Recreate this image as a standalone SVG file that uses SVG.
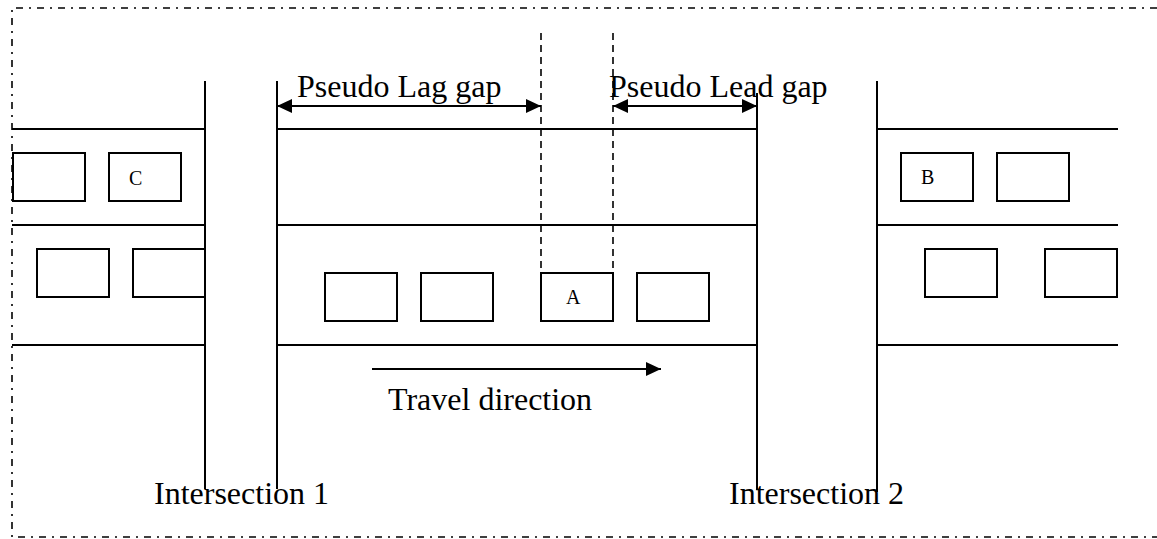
<svg xmlns="http://www.w3.org/2000/svg" width="1157" height="539" viewBox="0 0 1157 539">
<style>
.road{stroke:#000;stroke-width:2;fill:none}
.car{stroke:#000;stroke-width:2;fill:#fff}
.gap{stroke:#000;stroke-width:1.6;fill:none;stroke-dasharray:7,5}
.border{stroke:#000;stroke-width:1.6;fill:none;stroke-dasharray:7,6,2,6}
.arrow{stroke:#000;stroke-width:2;fill:none}
.lbl{font-family:"Liberation Serif","Times New Roman",serif;font-size:32px;fill:#000}
.car-lbl{font-family:"Liberation Serif","Times New Roman",serif;font-size:20px;fill:#000}
</style>
<defs>
<marker id="head" viewBox="0 0 15 14" refX="15" refY="7" markerWidth="15" markerHeight="14" markerUnits="userSpaceOnUse" orient="auto-start-reverse">
<path d="M0,0 L15,7 L0,14 z" fill="#000"/>
</marker>
</defs>
<rect width="1157" height="539" fill="#fff"/>
<path class="border" d="M1157,8 H12 V537 H1157"/>
<g id="roads">
<line class="road" x1="205" y1="81" x2="205" y2="489"/>
<line class="road" x1="277" y1="81" x2="277" y2="489"/>
<line class="road" x1="757" y1="93" x2="757" y2="490"/>
<line class="road" x1="877" y1="81" x2="877" y2="492"/>
<line class="road" x1="12" y1="129" x2="205" y2="129"/>
<line class="road" x1="12" y1="225" x2="205" y2="225"/>
<line class="road" x1="12" y1="345" x2="205" y2="345"/>
<line class="road" x1="277" y1="129" x2="757" y2="129"/>
<line class="road" x1="277" y1="225" x2="757" y2="225"/>
<line class="road" x1="277" y1="345" x2="757" y2="345"/>
<line class="road" x1="877" y1="129" x2="1118" y2="129"/>
<line class="road" x1="877" y1="225" x2="1118" y2="225"/>
<line class="road" x1="877" y1="345" x2="1118" y2="345"/>
</g>
<g id="cars-left">
<rect class="car" x="13" y="153" width="72" height="48"/>
<g id="car-C"><rect class="car" x="109" y="153" width="72" height="48"/><text class="car-lbl" x="129" y="185">C</text></g>
<rect class="car" x="37" y="249" width="72" height="48"/>
<rect class="car" x="133" y="249" width="72" height="48"/>
</g>
<g id="cars-middle">
<rect class="car" x="325" y="273" width="72" height="48"/>
<rect class="car" x="421" y="273" width="72" height="48"/>
<g id="car-A"><rect class="car" x="541" y="273" width="72" height="48"/><text class="car-lbl" x="566" y="304">A</text></g>
<rect class="car" x="637" y="273" width="72" height="48"/>
</g>
<g id="cars-right">
<g id="car-B"><rect class="car" x="901" y="153" width="72" height="48"/><text class="car-lbl" x="921" y="184">B</text></g>
<rect class="car" x="997" y="153" width="72" height="48"/>
<rect class="car" x="925" y="249" width="72" height="48"/>
<rect class="car" x="1045" y="249" width="72" height="48"/>
</g>
<g id="connectors">
<line class="gap" x1="541" y1="33" x2="541" y2="273"/>
<line class="gap" x1="613" y1="33" x2="613" y2="273"/>
<line class="arrow" x1="277" y1="106" x2="541" y2="106" marker-start="url(#head)" marker-end="url(#head)"/>
<line class="arrow" x1="613" y1="106" x2="757" y2="106" marker-start="url(#head)" marker-end="url(#head)"/>
<line class="arrow" x1="372" y1="369" x2="661" y2="369" marker-end="url(#head)"/>
</g>
<g id="labels">
<text class="lbl" x="297" y="97">Pseudo Lag gap</text>
<text class="lbl" x="609" y="97">Pseudo Lead gap</text>
<text class="lbl" x="388" y="410">Travel direction</text>
<text class="lbl" x="154" y="504">Intersection 1</text>
<text class="lbl" x="729" y="504">Intersection 2</text>
</g>
</svg>
